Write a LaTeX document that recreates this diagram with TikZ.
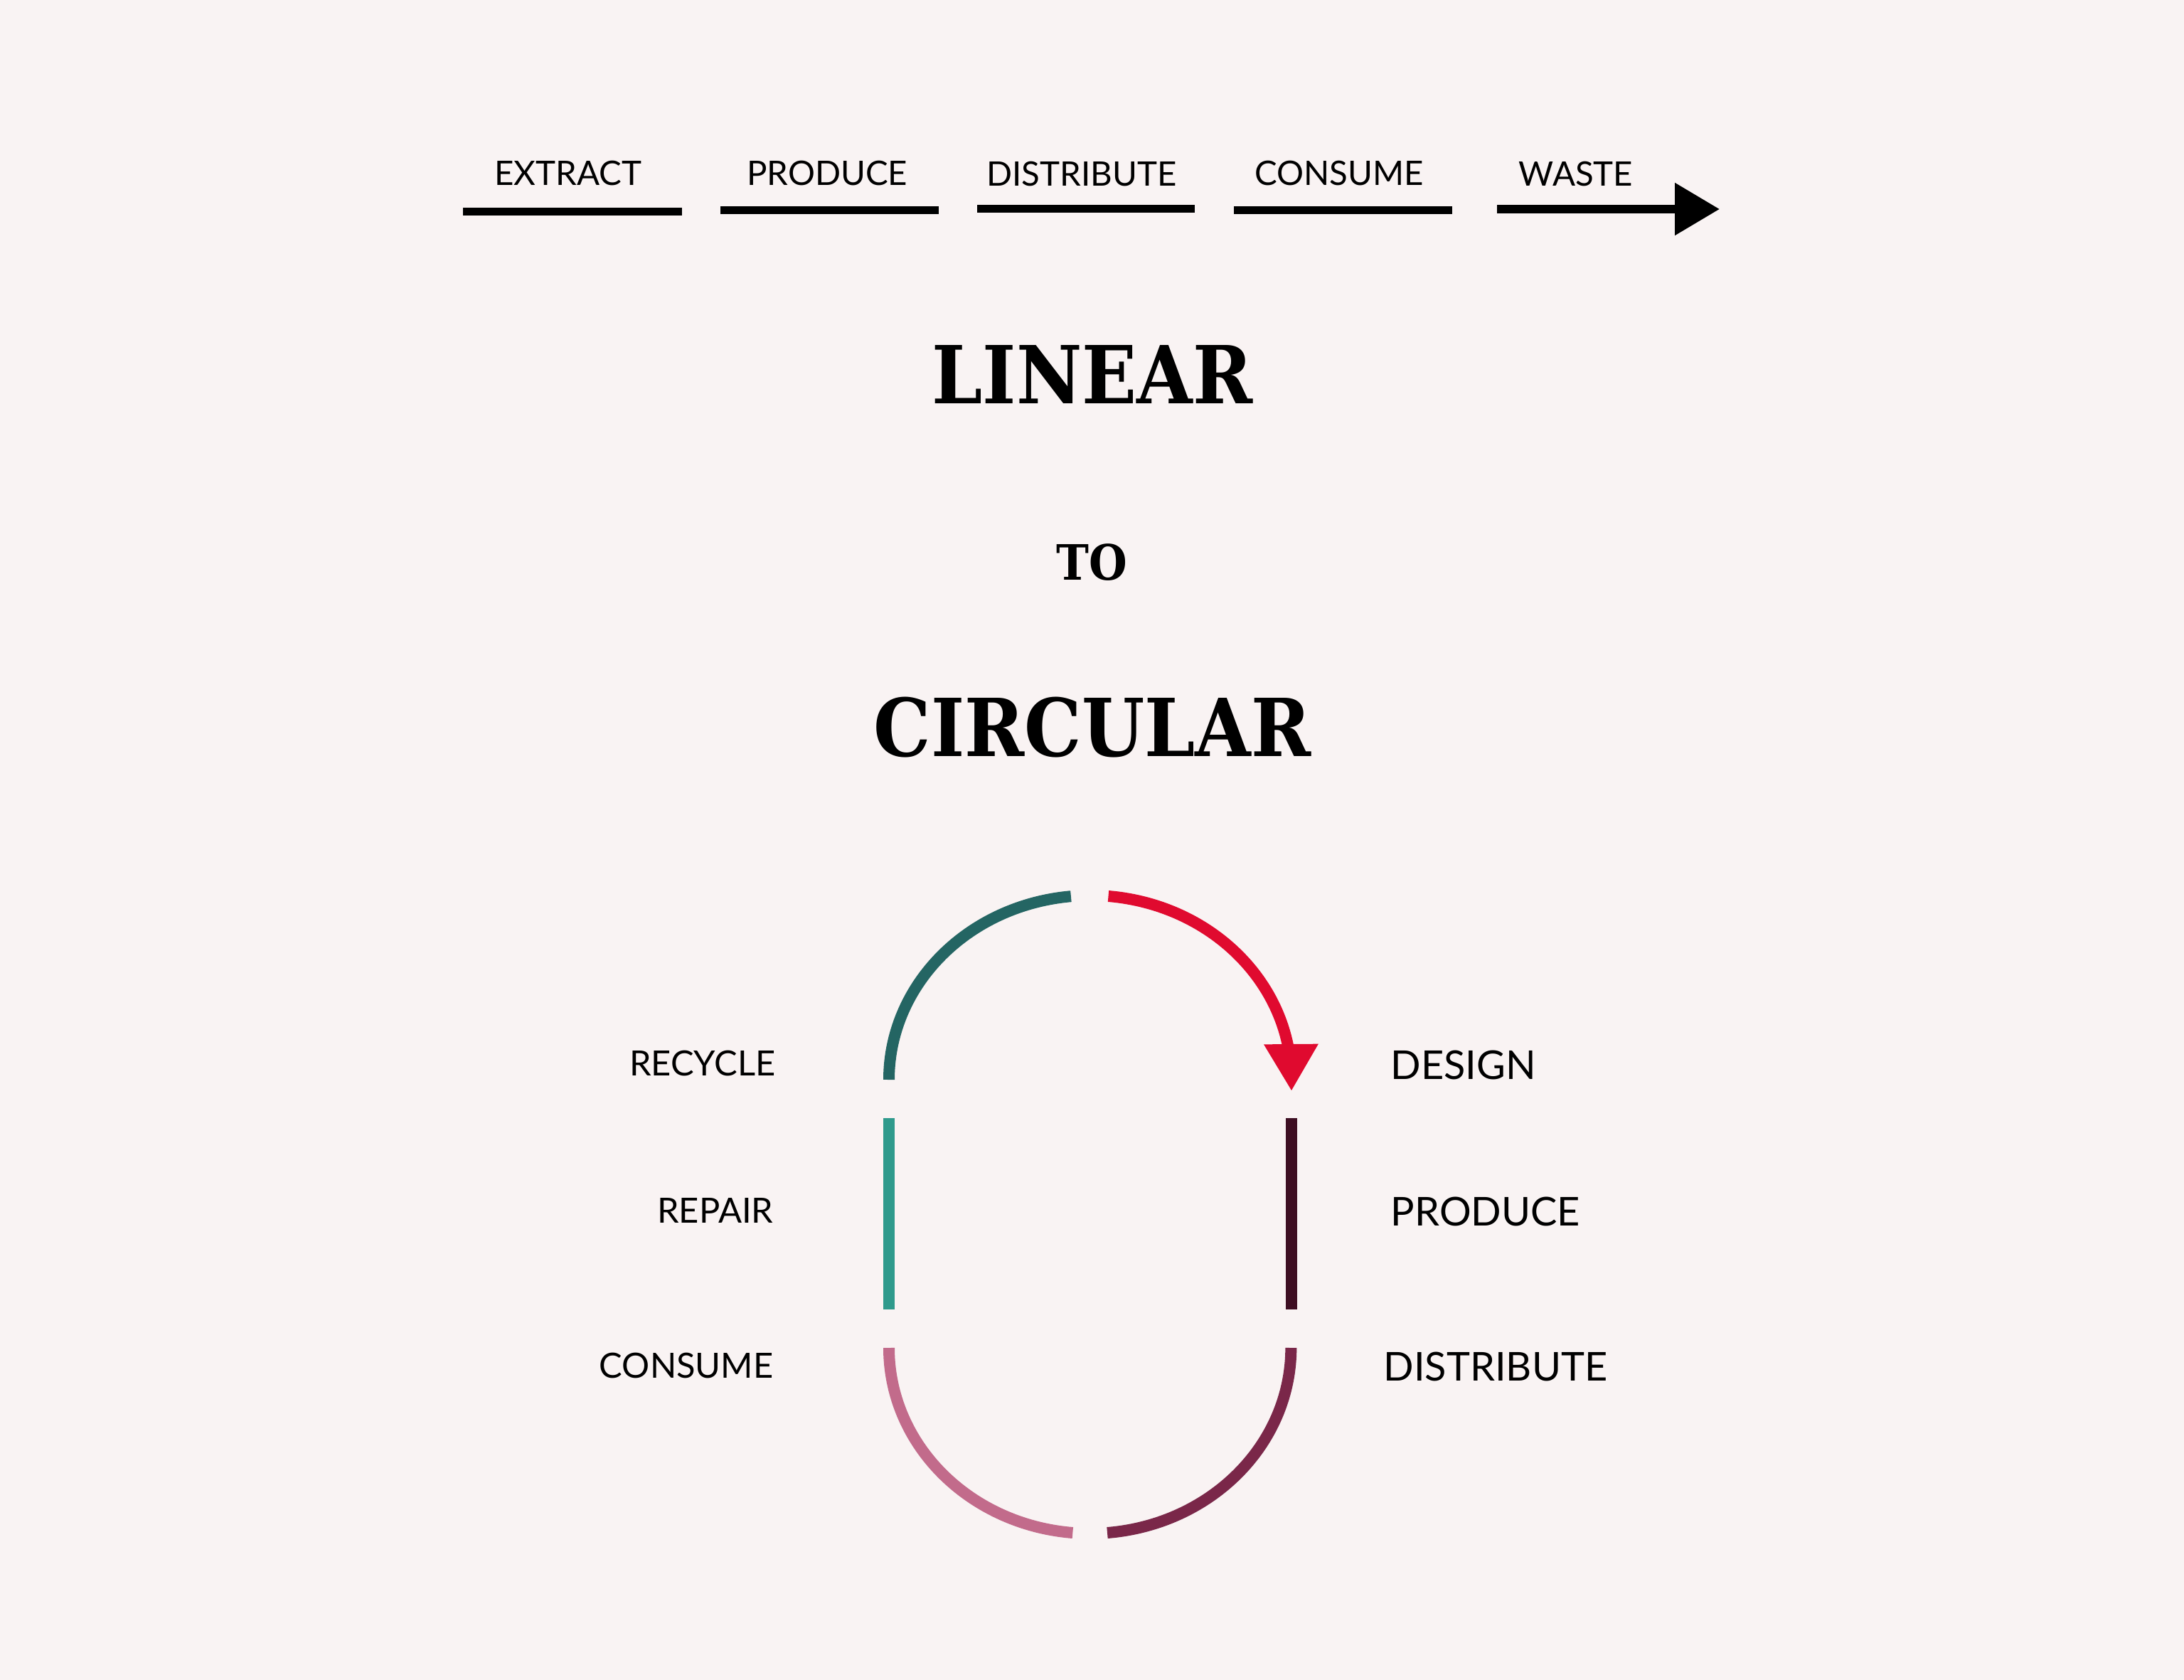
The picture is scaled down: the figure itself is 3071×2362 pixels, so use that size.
\documentclass[tikz,border=0pt]{standalone}
\usepackage{fontspec}
\setmainfont{Lato}
\newfontfamily\slabfont{DejaVu Serif Condensed}
\usepackage{tikz}
\usetikzlibrary{arrows.meta}

\definecolor{paper}{HTML}{F9F3F3}
\definecolor{recyclecol}{HTML}{246563}
\definecolor{repaircol}{HTML}{2F9A8C}
\definecolor{consumecol}{HTML}{C26B8B}
\definecolor{distcol}{HTML}{7A2749}
\definecolor{producecol}{HTML}{3E0E22}
\definecolor{designcol}{HTML}{E00A2F}

\begin{document}
\begin{tikzpicture}[x=0.1mm, y=0.1mm,
    steplabel/.style={inner sep=0, anchor=base, font=\fontsize{13.5}{16}\selectfont},
    title/.style={inner sep=0, anchor=base, font=\slabfont\bfseries\fontsize{32}{36}\selectfont},
    loopleft/.style={inner sep=0, anchor=base east, font=\fontsize{13.9}{16}\selectfont},
    loopright/.style={inner sep=0, anchor=base west, font=\fontsize{15.9}{18}\selectfont}]

        \def\barthick{1.1mm}
        \def\loopthick{1.6mm}

        \fill[paper] (0, 0) rectangle (3071, -2362);

        % linear row
        \node[steplabel] (extract) at (799, -260) {EXTRACT};
        \node[steplabel] (produce) at (1163, -260) {PRODUCE};
        \node[steplabel] (distribute) at (1521, -262) {DISTRIBUTE};
        \node[steplabel] (consume) at (1883, -260) {CONSUME};
        \node[steplabel] (waste) at (2216, -262) {WASTE};

        \draw[line width=\barthick] (651, -298) -- (959, -298);
        \draw[line width=\barthick] (1013, -296) -- (1320, -296);
        \draw[line width=\barthick] (1374, -294) -- (1680, -294);
        \draw[line width=\barthick] (1735, -296) -- (2042, -296);

        \coordinate (w1) at (2105, -294);
        \coordinate (w2) at (2418, -294);
        \draw[line width=1.2mm, -{Triangle[length=6.3mm, width=7.1mm]}] (w1) -- (w2);

        % titles
        \node[title] (linear) at (1536, -567) {LINEAR};
        \node[title, font=\slabfont\bfseries\fontsize{19.5}{22}\selectfont] (to) at (1535, -815) {TO};
        \node[title] (circular) at (1536, -1063) {CIRCULAR};

        % loop
        \coordinate (top) at (1533, -1518);
        \coordinate (bot) at (1533, -1895);
        \coordinate (tip) at (1816, -1534);

        \draw[line width=\loopthick, recyclecol] (1250, -1518) arc[start angle=180, end angle=95.5, x radius=283, y radius=259];
        \draw[line width=\loopthick, designcol, -{Triangle[length=6.6mm, width=7.2mm]}] (1558.5, -1260) arc[start angle=84.8, end angle=0, x radius=283, y radius=259] -- (tip);

        \draw[line width=\loopthick, repaircol] (1250, -1572) -- (1250, -1841);
        \draw[line width=\loopthick, producecol] (1816, -1572) -- (1816, -1841);

        \draw[line width=\loopthick, consumecol] (1250, -1895) arc[start angle=180, end angle=265, x radius=283, y radius=261];
        \draw[line width=\loopthick, distcol] (1557, -2155) arc[start angle=275, end angle=360, x radius=283, y radius=261];

        % loop labels
        \node[loopleft] (recycle) at (1091, -1512) {RECYCLE};
        \node[loopleft] (repair) at (1088, -1719) {REPAIR};
        \node[loopleft] (consume2) at (1088, -1937) {CONSUME};
        \node[loopright] (design) at (1955, -1517) {DESIGN};
        \node[loopright] (produce2) at (1955, -1723) {PRODUCE};
        \node[loopright] (distribute2) at (1945, -1941) {DISTRIBUTE};

    \end{tikzpicture}
\end{document}
